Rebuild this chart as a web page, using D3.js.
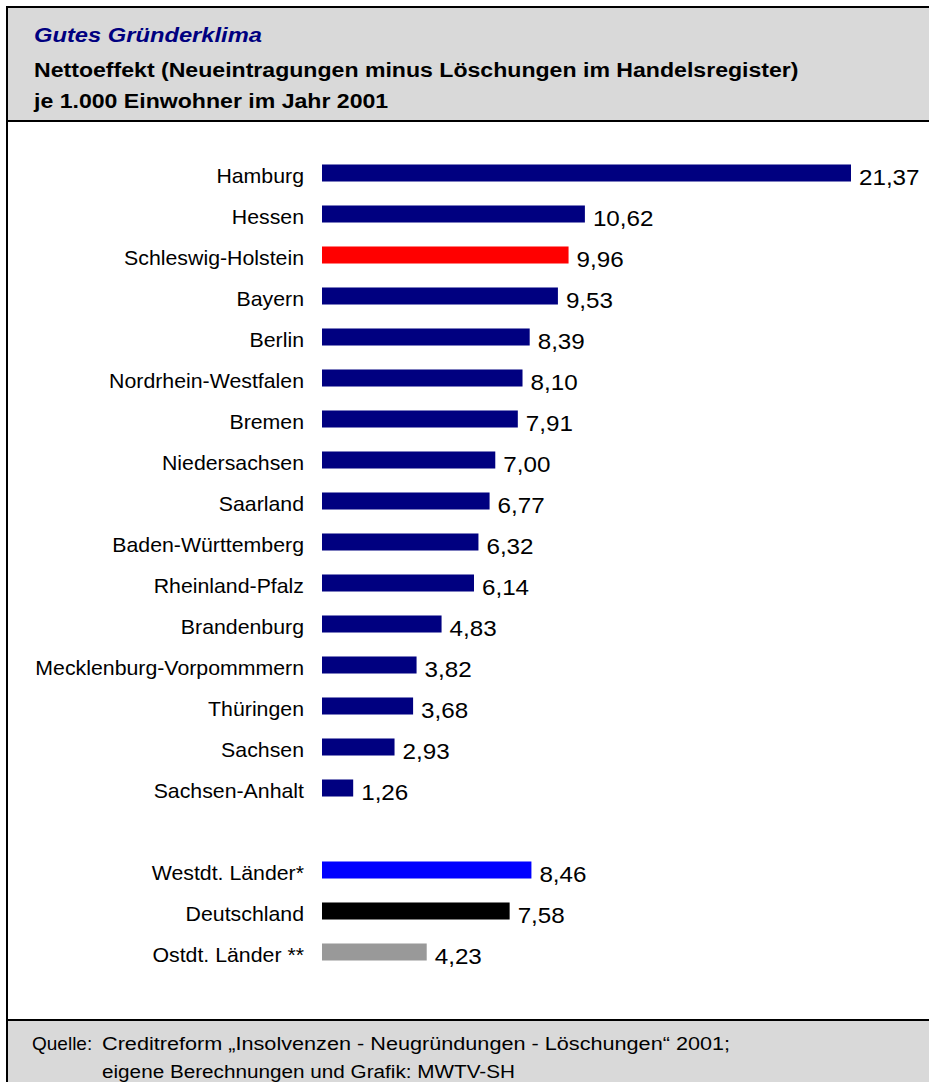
<!DOCTYPE html>
<html><head><meta charset="utf-8">
<script src="https://cdn.jsdelivr.net/npm/d3@7"></script>
<style>body{margin:0;background:#fff}svg{display:block}text{font-family:"Liberation Sans",Arial,sans-serif}</style>
</head><body>
<script>
const categories = ["Hamburg","Hessen","Schleswig-Holstein","Bayern","Berlin","Nordrhein-Westfalen","Bremen","Niedersachsen","Saarland","Baden-Württemberg","Rheinland-Pfalz","Brandenburg","Mecklenburg-Vorpommmern","Thüringen","Sachsen","Sachsen-Anhalt","","Westdt. Länder*","Deutschland","Ostdt. Länder **"];
const values = [21.37,10.62,9.96,9.53,8.39,8.10,7.91,7.00,6.77,6.32,6.14,4.83,3.82,3.68,2.93,1.26,null,8.46,7.58,4.23];
const colors = ["#000080","#000080","#ff0000","#000080","#000080","#000080","#000080","#000080","#000080","#000080","#000080","#000080","#000080","#000080","#000080","#000080",null,"#0000ff","#000000","#999999"];
const titleLines = ["Gutes Gründerklima","Nettoeffekt (Neueintragungen minus Löschungen im Handelsregister)","je 1.000 Einwohner im Jahr 2001"];
const sourceLabel = "Quelle:";
const sourceLines = ["Creditreform „Insolvenzen - Neugründungen - Löschungen“ 2001;","eigene Berechnungen und Grafik: MWTV-SH"];

const W=929,H=1082;
const svg=d3.select("body").append("svg").attr("width",W).attr("height",H);
svg.append("rect").attr("x",7).attr("y",7).attr("width",W).attr("height",114).attr("fill","#d9d9d9").attr("stroke","#000").attr("stroke-width",2);
svg.append("rect").attr("x",7).attr("y",121).attr("width",W).attr("height",899).attr("fill","#fff").attr("stroke","#000").attr("stroke-width",2);
svg.append("rect").attr("x",7).attr("y",1020).attr("width",W).attr("height",70).attr("fill","#d9d9d9").attr("stroke","#000").attr("stroke-width",2);

function txt(parent,x,y,s,size,sx,opts={}){
  const t=parent.append("text").attr("transform",`translate(${x},${y}) scale(${sx},1)`).attr("font-size",size).text(s);
  if(opts.anchor) t.attr("text-anchor",opts.anchor);
  if(opts.bold) t.attr("font-weight","bold");
  if(opts.italic) t.attr("font-style","italic");
  t.attr("fill",opts.fill||"#000");
  return t;
}
txt(svg,34,42,titleLines[0],21,1.13,{bold:true,italic:true,fill:"#000080"});
txt(svg,34,77,titleLines[1],21,1.1,{bold:true});
txt(svg,34,108,titleLines[2],21,1.1,{bold:true});

txt(svg,32,1050,sourceLabel,19,1.0);
txt(svg,102,1050,sourceLines[0],19,1.14);
txt(svg,102,1078,sourceLines[1],19,1.09);

const idx=d3.range(categories.length);
const y=d3.scaleBand().domain(idx).range([152.5,972.5]).paddingInner(0.585).paddingOuter(0.2925);
const x=d3.scaleLinear().domain([0,21.37]).range([322,851]);
const fmt=v=>d3.format(".2f")(v).replace(".",",");
const rows=idx.filter(i=>values[i]!==null);
const g=svg.append("g");
g.selectAll("rect.bar").data(rows).join("rect").attr("class","bar")
 .attr("x",x(0)).attr("y",i=>y(i)).attr("height",y.bandwidth()).attr("width",i=>x(values[i])-x(0)).attr("fill",i=>colors[i]);
rows.forEach(i=>{
  const cy=y(i)+y.bandwidth()/2;
  txt(g,304,cy+10,categories[i],20,1.065,{anchor:"end"});
  txt(g,x(values[i])+8,cy+12,fmt(values[i]),22,1.1);
});
</script>
</body></html>
